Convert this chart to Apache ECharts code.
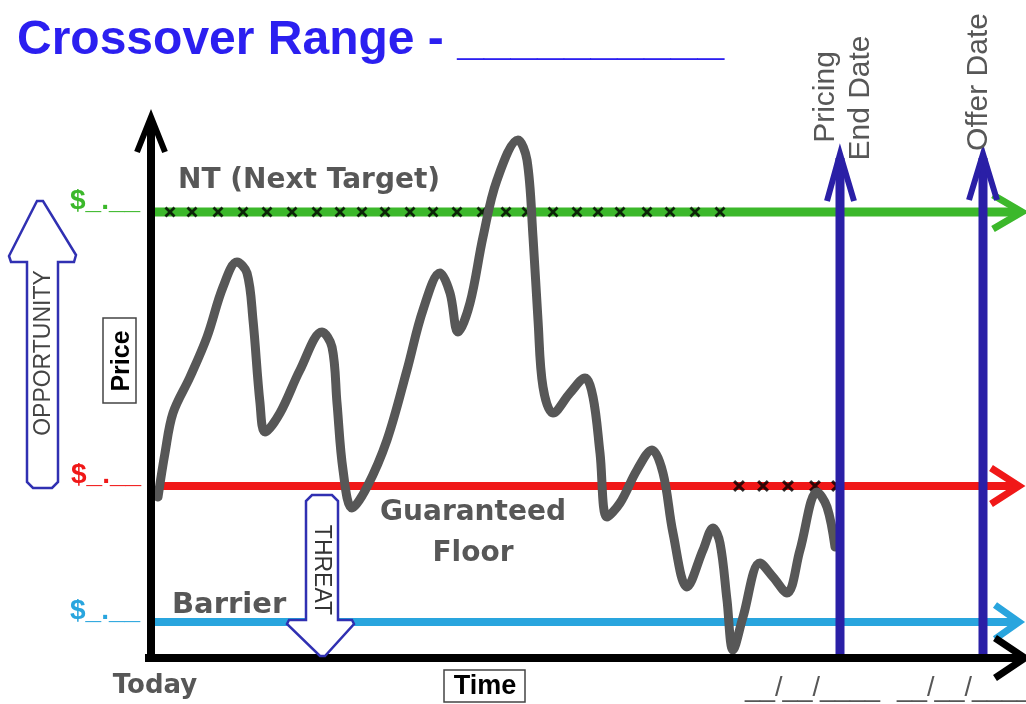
<!DOCTYPE html>
<html><head><meta charset="utf-8">
<script src="https://cdn.jsdelivr.net/npm/echarts@6/dist/echarts.min.js"></script>
<style>html,body{margin:0;padding:0;background:#fff}#c{width:1026px;height:704px}</style>
</head><body><div id="c"></div><script>
// ---- data (time units / price units of the sketch) ----
const titleText = 'Crossover Range - __________';
const ntLevel = 446;        // NT (Next Target)
const floorLevel = 172;     // Guaranteed Floor
const barrierLevel = 36;    // Barrier
const priceTimes  = [7,14,22,39,56,72,86,96,102,109,114,129,149,171,181,186,192,201,216,236,256,272,289,299,307,319,332,346,367,376,382,387,392,402,419,434,442,449,456,469,486,501,512,522,536,552,562,569,576,582,592,609,622,636,649,666,676,684];
const priceValues = [161,205,245,281,321,371,396,385,338,255,226,245,288,326,311,255,188,150,171,218,288,348,385,365,326,355,421,478,518,498,421,338,271,245,265,280,261,205,141,155,188,208,185,125,71,108,130,115,58,8,41,95,81,65,108,166,151,111];
const ntMarkTimes = [19,41,67,92,116,141,166,189,211,234,259,282,306,331,355,376,402,426,447,469,496,519,544,569];
const floorMarkTimes = [588,612,637,664,686];
const pricingEndTime = 689;
const offerTime = 832;
const dateArrowTop = 504;
const levelLabel = '$_.__';
const dateLabel = '__/__/____';
const timeMin = -50, timeMax = 875, priceMin = -10, priceMax = 658;

// ---- styles ----
const ARIAL = "'Liberation Sans', Arial, sans-serif";
const VERD = "'DejaVu Sans', Verdana, sans-serif";
const GREEN = '#3cb82b', RED = '#f01818', LBLUE = '#29a5de', DBLUE = '#2a1fa6', GRAY = '#575757';
const XPATH = 'path://M0,1.8L1.8,0L5,3.2L8.2,0L10,1.8L6.8,5L10,8.2L8.2,10L5,6.8L1.8,10L0,8.2L3.2,5Z';

function hChev(tx, ty, dx, dy) { return [[tx + dx, ty + dy], [tx, ty], [tx + dx, ty - dy]]; }
function vChev(tx, ty, dl, dr, dy) { return [[tx - dl, ty - dy], [tx, ty], [tx + dr, ty - dy]]; }
function lineS(data, color, width, z) {
  return { type: 'line', data: data, symbol: 'none', silent: true, clip: false, z: z,
    lineStyle: { color: color, width: width, cap: 'butt', join: 'miter' }, animation: false };
}

const chart = echarts.init(document.getElementById('c'), null, { renderer: 'canvas' });
const option = {
  backgroundColor: '#fff',
  animation: false,
  title: { text: titleText, left: 17, top: 17, padding: 0,
    textStyle: { color: '#2b1ff0', fontSize: 48, fontWeight: 'bold', fontFamily: ARIAL } },
  grid: { left: 101, right: 0, top: 0, bottom: 36 },
  xAxis: { type: 'value', min: timeMin, max: timeMax, show: false },
  yAxis: { type: 'value', min: priceMin, max: priceMax, show: false },
  series: [
    lineS([[0, ntLevel], [868, ntLevel]], GREEN, 9, 2),
    lineS(hChev(871, ntLevel, -29, 17), GREEN, 7, 2),
    lineS([[9, floorLevel], [865, floorLevel]], RED, 8, 2),
    lineS(hChev(868, floorLevel, -28, 18), RED, 7, 2),
    lineS([[0, barrierLevel], [865, barrierLevel]], LBLUE, 8, 2),
    lineS(hChev(868, barrierLevel, -24, 17), LBLUE, 7, 2),
    { type: 'scatter', data: ntMarkTimes.map(t => [t, ntLevel]), symbol: XPATH, symbolSize: 11,
      itemStyle: { color: '#000' }, z: 3, silent: true, animation: false },
    { type: 'scatter', data: floorMarkTimes.map(t => [t, floorLevel]), symbol: XPATH, symbolSize: 12,
      itemStyle: { color: '#000' }, z: 3, silent: true, animation: false },
    { type: 'line', data: priceTimes.map((t, i) => [t, priceValues[i]]), smooth: 0.35, symbol: 'none',
      silent: true, z: 4, lineStyle: { color: GRAY, width: 9, cap: 'round', join: 'round' }, animation: false },
    lineS([[pricingEndTime, 0], [pricingEndTime, dateArrowTop - 4]], DBLUE, 9, 5),
    lineS(vChev(pricingEndTime, dateArrowTop, 13, 14, 47), DBLUE, 6, 5),
    lineS([[offerTime, 0], [offerTime, dateArrowTop - 4]], DBLUE, 9, 5),
    lineS(vChev(offerTime, dateArrowTop, 14, 14, 46), DBLUE, 6, 5),
    lineS([[-6, 0], [872, 0]], '#000', 8, 6),
    lineS(hChev(874, 0, -30, 20), '#000', 7, 6),
    lineS([[0, -4], [0, 538]], '#000', 8, 6),
    lineS(vChev(0, 541, 14, 14, 35), '#000', 6, 6)
  ]
};
chart.setOption(option);

function yPix(v) { return chart.convertToPixel({ gridIndex: 0 }, [0, v])[1]; }
function txt(x, y, text, o) {
  o = o || {};
  return { type: 'text', x: x, y: y, rotation: o.rot || 0, z: 100, silent: true,
    style: { text: text, fill: o.color || GRAY, fontSize: o.size || 28, fontFamily: o.family || VERD,
      fontWeight: o.weight || 'normal', align: o.align || 'center', verticalAlign: o.va || 'middle' } };
}
const ARROWBLUE = '#3030b2';
const graphics = [
  // opportunity arrow
  { type: 'polygon', z: 90, silent: true,
    shape: { points: [[37,201],[43,201],[76,255],[74,262],[58,262],[58,482],[52,488],[33,488],[27,482],[27,262],[11,262],[9,256]] },
    style: { fill: '#fff', stroke: ARROWBLUE, lineWidth: 2.5 } },
  txt(44, 353, 'OPPORTUNITY', { rot: Math.PI / 2, size: 23, family: ARIAL, color: '#444' }),
  // threat arrow
  { type: 'polygon', z: 90, silent: true,
    shape: { points: [[312,495],[332,495],[338,501],[338,620],[352,620],[354,624],[325,656],[320,656],[287,624],[289,620],[306,620],[306,501]] },
    style: { fill: '#fff', stroke: ARROWBLUE, lineWidth: 2.5 } },
  txt(321, 570, 'THREAT', { rot: -Math.PI / 2, size: 23, family: ARIAL, color: '#333' }),
  // level labels
  txt(70, yPix(ntLevel) + 3, levelLabel, { color: GREEN, size: 28, family: ARIAL, weight: 'bold', align: 'left', va: 'bottom' }),
  txt(71, yPix(floorLevel) + 3, levelLabel, { color: RED, size: 28, family: ARIAL, weight: 'bold', align: 'left', va: 'bottom' }),
  txt(70, yPix(barrierLevel) + 3, levelLabel, { color: LBLUE, size: 28, family: ARIAL, weight: 'bold', align: 'left', va: 'bottom' }),
  // line labels
  txt(178, 181, 'NT (Next Target)', { weight: 'bold', size: 28, align: 'left' }),
  txt(473, 513, 'Guaranteed', { weight: 'bold', size: 28 }),
  txt(473, 554, 'Floor', { weight: 'bold', size: 28 }),
  txt(172, 605, 'Barrier', { weight: 'bold', size: 29, align: 'left' }),
  txt(155, 686, 'Today', { weight: 'bold', size: 26 }),
  // axis title boxes
  { type: 'rect', z: 95, silent: true, shape: { x: 103, y: 318, width: 33, height: 85 },
    style: { fill: '#fff', stroke: '#444', lineWidth: 1.5 } },
  txt(122, 361, 'Price', { rot: Math.PI / 2, size: 25, family: ARIAL, weight: 'bold', color: '#000' }),
  { type: 'rect', z: 95, silent: true, shape: { x: 444, y: 670, width: 81, height: 32 },
    style: { fill: '#fff', stroke: '#444', lineWidth: 1.5 } },
  txt(485, 687, 'Time', { size: 27, family: ARIAL, weight: 'bold', color: '#000' }),
  // date labels
  txt(826, 97, 'Pricing', { rot: Math.PI / 2, size: 30, family: ARIAL }),
  txt(861, 98, 'End Date', { rot: Math.PI / 2, size: 30, family: ARIAL }),
  txt(979, 82, 'Offer Date', { rot: Math.PI / 2, size: 30, family: ARIAL }),
  txt(745, 689, dateLabel, { size: 27, family: ARIAL, align: 'left' }),
  txt(897, 689, dateLabel, { size: 27, family: ARIAL, align: 'left' })
];
chart.setOption({ graphic: graphics });
</script></body></html>
